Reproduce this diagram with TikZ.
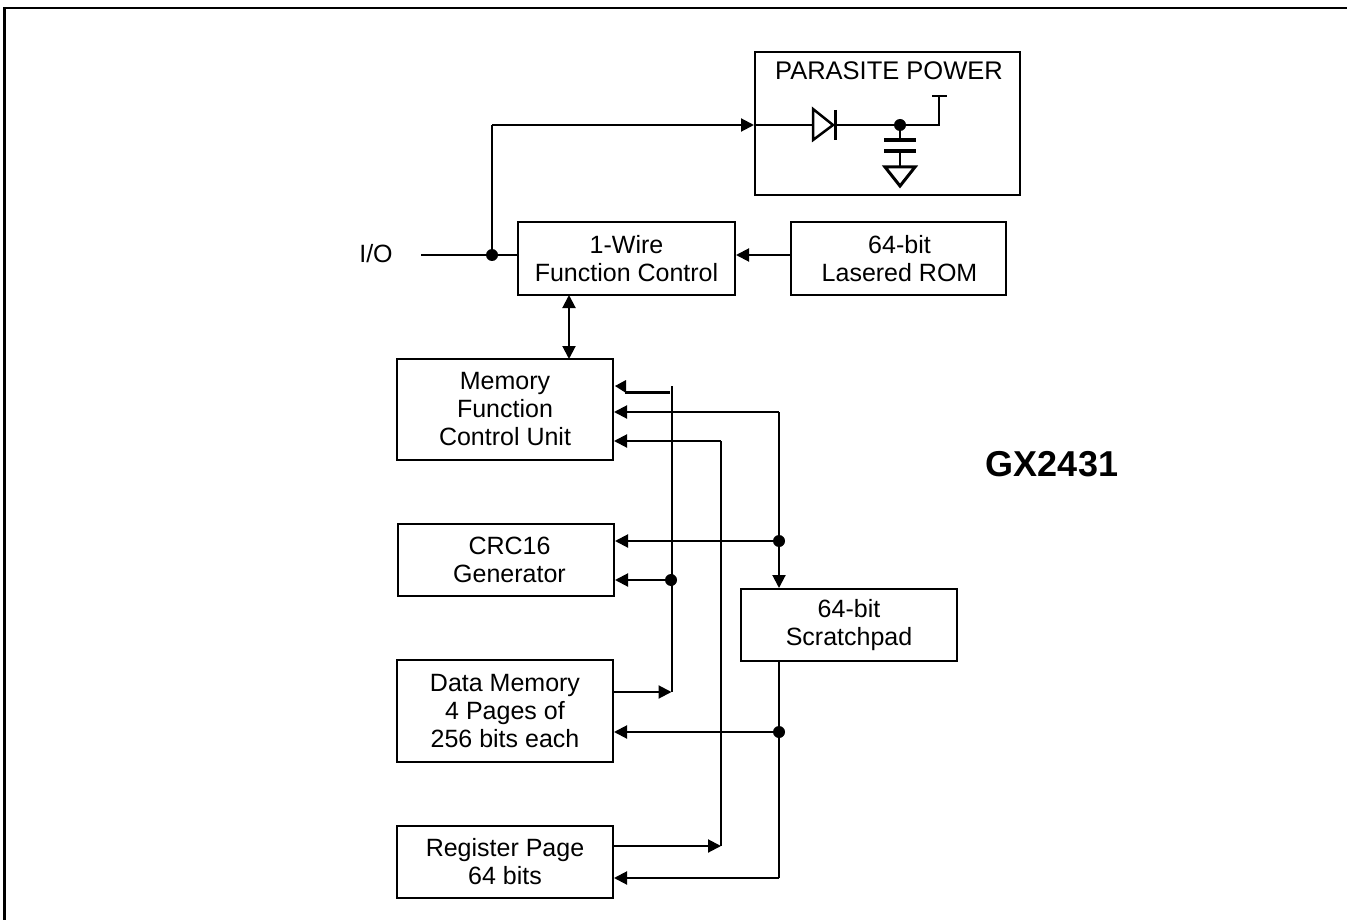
\documentclass[tikz,border=0pt]{standalone}
\usepackage{fontspec}
\setmainfont{Liberation Sans}
\usetikzlibrary{arrows.meta}
\tikzset{
  blockbox/.style={draw,line width=2pt,minimum width=0pt,inner sep=0pt,align=center,font=\fontsize{25}{28}\selectfont},
  wire/.style={line width=2pt},
  arr/.style={wire,-{Triangle[length=13pt,width=13pt]}},
  darr/.style={wire,{Triangle[length=13pt,width=13pt]}-{Triangle[length=13pt,width=13pt]}},
  junction/.style={circle,fill=black,draw=none,minimum size=12pt,inner sep=0pt},
  lbl/.style={inner sep=0pt,font=\fontsize{25}{28}\selectfont,align=center},
  thickwire/.style={line width=3pt}
}
\newcommand{\boxat}[6]{\node[blockbox,minimum width=#4pt-#2pt,minimum height=#5pt-#3pt] (#1) at ({(#2+#4)/2},{(#3+#5)/2}) {#6};}
\begin{document}
\begin{tikzpicture}[x=1pt,y=-1pt]
\useasboundingbox (0,0) rectangle (1347,920);
\draw[line width=2.5pt] (4.5,920) -- (4.5,8) -- (1347,8);
\boxat{pp}{755}{52}{1020}{195}{}
\node[lbl,font=\fontsize{25.5}{28}\selectfont] (pptext) at (889,71) {PARASITE POWER};
\boxat{owf}{518}{222}{735}{295}{1-Wire\\Function Control}
\boxat{rom}{791}{222}{1006}{295}{\hspace*{2pt}64-bit\\\hspace*{2pt}Lasered ROM}
\boxat{mem}{397}{359}{613}{460}{Memory\\Function\\Control Unit}
\boxat{crc}{398}{524}{614}{596}{\hspace*{7pt}CRC16\\\hspace*{7pt}Generator}
\boxat{data}{397}{660}{613}{762}{Data Memory\\4 Pages of\\256 bits each}
\boxat{reg}{397}{826}{613}{898}{Register Page\\64 bits}
\boxat{scr}{741}{589}{957}{661}{64-bit\\Scratchpad}
\node[lbl] (io) at (376,254) {I/O};
\node[lbl,font=\bfseries\fontsize{36}{40}\selectfont] (gx) at (1052,464) {GX2431};
% junctions
\node[junction] (j1) at (492,255) {};
\node[junction] (j2) at (779,541) {};
\node[junction] (j3) at (671,580) {};
\node[junction] (j4) at (779,732) {};
\node[junction] (j5) at (900,125) {};
\coordinate (iostart) at (421,255);
\coordinate (b1) at (492,125);
\coordinate (b2) at (569,295);
\coordinate (b3) at (569,359);
% top wiring
\draw[wire] (iostart) -- (owf.west |- iostart);
\draw[wire] (j1) -- (b1);
\draw[arr] (b1) -- (pp.west |- b1);
\draw[arr] (rom.west |- 0,255) -- (owf.east |- 0,255);
\draw[darr] (b2) -- (b3);
% parasite
\coordinate (dl) at (812,125);
\coordinate (dr) at (836,125);
\coordinate (vt) at (939,96);
\draw[wire] (pp.west |- b1) -- (dl);
\draw[line width=2.5pt,line join=miter] (813,109) -- (813,140) -- (833,125) -- cycle;
\draw[line width=3.5pt] (835.5,110) -- (835.5,140);
\draw[wire] (dr) -- (j5);
\draw[wire] (j5) -- (939,125) -- (vt);
\draw[wire] (932,96) -- (947,96);
\draw[wire] (j5) -- (900,140);
\draw[line width=3.5pt] (884,140) -- (916,140);
\draw[line width=3.5pt] (884,151) -- (916,151);
\draw[wire] (900,151) -- (900,167);
\draw[thickwire,line join=miter] (885,167) -- (915,167) -- (900,186) -- cycle;
% left bus
\coordinate (bt) at (671.5,386);
\coordinate (bb) at (671.5,692);
\coordinate (stubend) at (670,392);
\coordinate (stubmid) at (625,392);
\draw[wire] (bt) -- (bb);
\draw[thickwire] (stubend) -- (stubmid);
\fill (mem.east |- 0,386) ++(1,0) -- (626,380) -- (626,393) -- cycle;
\draw[arr] (j3) -- (crc.east |- j3);
\draw[arr] (data.east |- bb) -- (bb);
% scratch right
\coordinate (rt) at (779,412);
\draw[arr] (rt) -- (mem.east |- rt);
\draw[wire] (rt) -- (j2);
\draw[arr] (j2) -- (scr.north -| j2);
\draw[arr] (j2) -- (crc.east |- j2);
\draw[wire] (scr.south -| j4) -- (j4);
\draw[arr] (j4) -- (data.east |- j4);
\coordinate (rb) at (779,878);
\draw[wire] (j4) -- (rb);
\draw[arr] (rb) -- (reg.east |- rb);
% register bus
\coordinate (mt) at (721,441);
\coordinate (mb) at (721,846);
\draw[arr] (mt) -- (mem.east |- mt);
\draw[wire] (mt) -- (mb);
\draw[arr] (reg.east |- mb) -- (mb);
\end{tikzpicture}
\end{document}
